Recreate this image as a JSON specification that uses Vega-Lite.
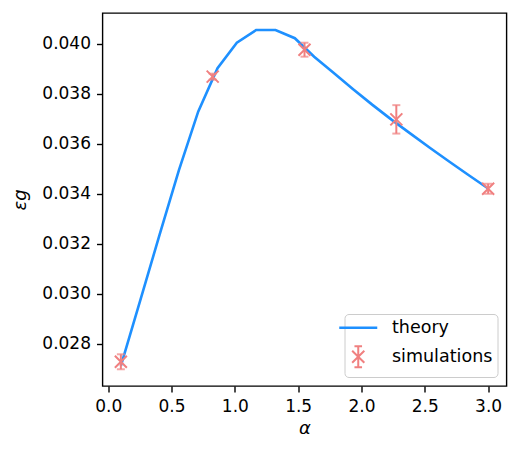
{
  "$schema": "https://vega.github.io/schema/vega-lite/v6.json",
  "width": 404,
  "height": 373,
  "autosize": {"type": "none"},
  "padding": {"left": 102.5, "top": 13, "right": 12, "bottom": 68},
  "background": "white",
  "config": {
    "font": "DejaVu Sans",
    "view": {"stroke": "#000000", "strokeWidth": 1.4},
    "axis": {
      "labelFont": "DejaVu Sans",
      "labelFontSize": 17,
      "labelColor": "#000000",
      "titleFont": "DejaVu Sans",
      "titleFontSize": 18,
      "titleFontWeight": "normal",
      "titleFontStyle": "italic",
      "titleColor": "#000000",
      "domain": false,
      "grid": false,
      "tickColor": "#000000",
      "tickWidth": 1.4,
      "tickSize": 6,
      "labelPadding": 6
    },
    "legend": {
      "orient": "bottom-right",
      "offset": 9,
      "fillColor": "rgba(255,255,255,0.8)",
      "strokeColor": "#cccccc",
      "cornerRadius": 4,
      "padding": 5,
      "labelFont": "DejaVu Sans",
      "labelFontSize": 17.5,
      "labelColor": "#000000",
      "symbolSize": 1444,
      "labelOffset": 25,
      "rowPadding": 5
    }
  },
  "datasets": {
    "theory": [
      {"alpha": 0.1, "eps": 0.02711, "series": "theory"},
      {"alpha": 0.2526, "eps": 0.02972, "series": "theory"},
      {"alpha": 0.4053, "eps": 0.03235, "series": "theory"},
      {"alpha": 0.5579, "eps": 0.03494, "series": "theory"},
      {"alpha": 0.7105, "eps": 0.03729, "series": "theory"},
      {"alpha": 0.8632, "eps": 0.03903, "series": "theory"},
      {"alpha": 1.0158, "eps": 0.04005, "series": "theory"},
      {"alpha": 1.1684, "eps": 0.04056, "series": "theory"},
      {"alpha": 1.3211, "eps": 0.04056, "series": "theory"},
      {"alpha": 1.4737, "eps": 0.04023, "series": "theory"},
      {"alpha": 1.6263, "eps": 0.03949, "series": "theory"},
      {"alpha": 1.7789, "eps": 0.03885, "series": "theory"},
      {"alpha": 1.9316, "eps": 0.0382, "series": "theory"},
      {"alpha": 2.0842, "eps": 0.03757, "series": "theory"},
      {"alpha": 2.2368, "eps": 0.03697, "series": "theory"},
      {"alpha": 2.3895, "eps": 0.0364, "series": "theory"},
      {"alpha": 2.5421, "eps": 0.03583, "series": "theory"},
      {"alpha": 2.6947, "eps": 0.03528, "series": "theory"},
      {"alpha": 2.8474, "eps": 0.03474, "series": "theory"},
      {"alpha": 3.0, "eps": 0.03421, "series": "theory"}
    ],
    "sims": [
      {"alpha": 0.1, "eps": 0.02727, "lo": 0.02697, "hi": 0.02757, "series": "simulations"},
      {"alpha": 0.825, "eps": 0.03869, "lo": 0.03857, "hi": 0.03881, "series": "simulations"},
      {"alpha": 1.55, "eps": 0.03977, "lo": 0.03949, "hi": 0.04005, "series": "simulations"},
      {"alpha": 2.275, "eps": 0.03698, "lo": 0.03641, "hi": 0.03755, "series": "simulations"},
      {"alpha": 3.0, "eps": 0.0342, "lo": 0.034, "hi": 0.0344, "series": "simulations"}
    ]
  },
  "encoding": {
    "x": {
      "field": "alpha",
      "type": "quantitative",
      "scale": {"domain": [-0.045, 3.145], "nice": false, "zero": false},
      "axis": {"title": "α", "values": [0, 0.5, 1, 1.5, 2, 2.5, 3], "format": ".1f", "titlePadding": 5}
    }
  },
  "layer": [
    {
      "data": {"name": "theory"},
      "mark": {"type": "line", "strokeWidth": 2.6},
      "encoding": {
        "y": {
          "field": "eps",
          "type": "quantitative",
          "scale": {"domain": [0.0263, 0.04124], "nice": false, "zero": false},
          "axis": {"title": "εg", "values": [0.028, 0.03, 0.032, 0.034, 0.036, 0.038, 0.04], "format": ".3f", "titlePadding": 12}
        },
        "color": {
          "field": "series",
          "type": "nominal",
          "scale": {"domain": ["theory", "simulations"], "range": ["#1E90FF", "#F08080"]},
          "legend": {
            "title": null,
            "encode": {
              "symbols": {
                "update": {
                  "shape": {"signal": "datum.value === 'theory' ? 'M-1,0L1,0' : 'M-0.32,-0.32L0.32,0.32M-0.32,0.32L0.32,-0.32M0,-0.55L0,0.55M-0.2,-0.55L0.2,-0.55M-0.2,0.55L0.2,0.55'"},
                  "stroke": {"signal": "datum.value === 'theory' ? '#1E90FF' : '#F08080'"},
                  "fill": {"value": "transparent"},
                  "strokeWidth": {"signal": "datum.value === 'theory' ? 2.6 : 2"},
                  "size": {"value": 1444},
                  "opacity": {"value": 1}
                }
              }
            }
          }
        }
      }
    },
    {
      "data": {"name": "sims"},
      "mark": {"type": "rule", "strokeWidth": 2, "color": "#F08080"},
      "encoding": {
        "y": {"field": "lo", "type": "quantitative"},
        "y2": {"field": "hi"}
      }
    },
    {
      "data": {"name": "sims"},
      "mark": {"type": "tick", "orient": "horizontal", "size": 8, "thickness": 2, "color": "#F08080"},
      "encoding": {
        "y": {"field": "lo", "type": "quantitative"}
      }
    },
    {
      "data": {"name": "sims"},
      "mark": {"type": "tick", "orient": "horizontal", "size": 8, "thickness": 2, "color": "#F08080"},
      "encoding": {
        "y": {"field": "hi", "type": "quantitative"}
      }
    },
    {
      "data": {"name": "sims"},
      "mark": {"type": "point", "filled": false, "shape": "M-1,-1L1,1M-1,1L1,-1", "size": 144, "strokeWidth": 2, "opacity": 1},
      "encoding": {
        "y": {"field": "eps", "type": "quantitative"},
        "color": {"field": "series", "type": "nominal"}
      }
    }
  ]
}
